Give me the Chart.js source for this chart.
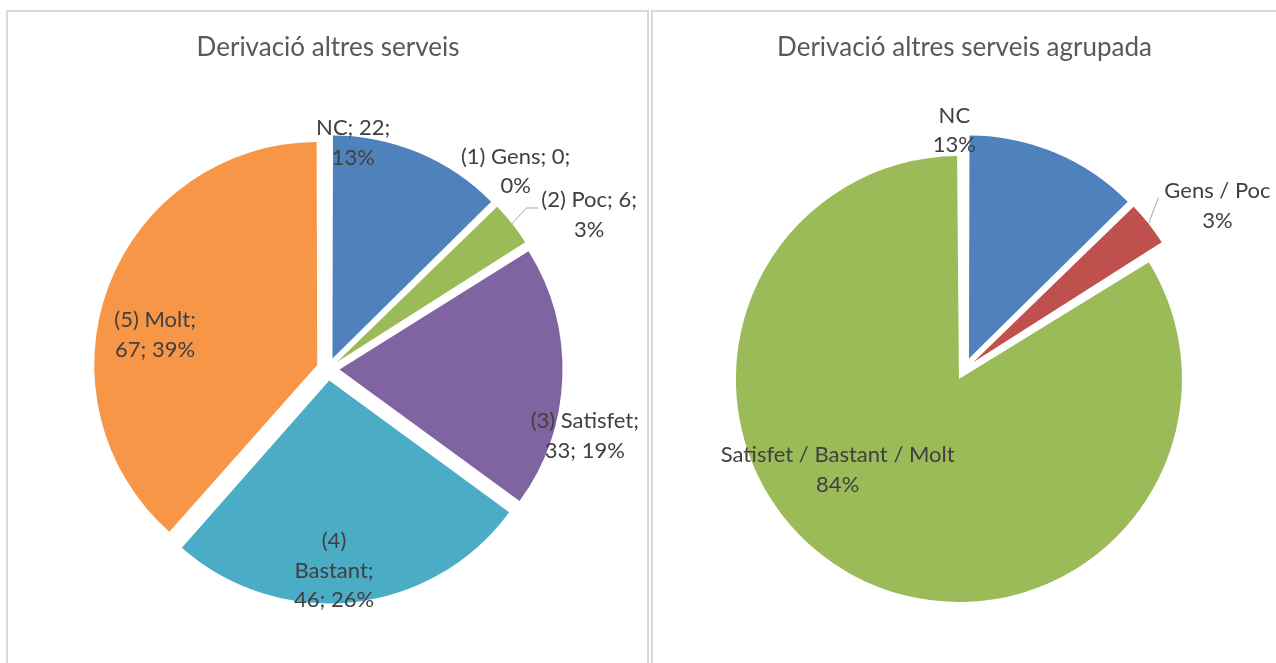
<!DOCTYPE html>
<html>
<head>
<meta charset="utf-8">
<script src="https://cdn.jsdelivr.net/npm/chart.js@4.4.0/dist/chart.umd.min.js"></script>
<style>
	html, body { margin: 0; padding: 0; background: #fff; overflow: hidden; }
	body { width: 1276px; height: 663px; position: relative; }
	.panel { position: absolute; top: 10px; height: 700px; border: 2px solid #d9d9d9; box-sizing: border-box; }
	#panel-left { left: 6px; width: 643px; }
	#panel-right { left: 651px; width: 700px; }
	canvas { position: absolute; top: 11px; }
	#chart-left { left: 8px; }
	#chart-right { left: 653px; }
</style>
</head>
<body>
<div class="panel" id="panel-left"></div>
<div class="panel" id="panel-right"></div>
<canvas id="chart-left" width="640" height="652"></canvas>
<canvas id="chart-right" width="623" height="652"></canvas>
<script>
// DATA
const leftTitle = 'Derivació altres serveis';
const leftLabels = ['NC', '(1) Gens', '(2) Poc', '(3) Satisfet', '(4) Bastant', '(5) Molt'];
const leftValues = [22, 0, 6, 33, 46, 67];
const leftColors = ['#4F81BD', '#C0504D', '#9BBB59', '#8064A2', '#4BACC6', '#F79646'];

const rightTitle = 'Derivació altres serveis agrupada';
const rightLabels = ['NC', 'Gens / Poc', 'Satisfet / Bastant / Molt'];
const rightValues = [22, 6, 146];
const rightColors = ['#4F81BD', '#C0504D', '#9BBB59'];

// label placement: da = degrees from slice middle, k = share of radius, w = wrap width
const leftPlace = [
	{ da: -16.4, k: 1.02, w: 90 },
	{ da: -2, k: 1.222, w: 135 },
	{ da: 7.7, k: 1.36, w: 112, leader: true, tail: true },
	{ da: 12.5, k: 1.19, w: 135 },
	{ da: 4.5, k: 0.904, w: 95 },
	{ da: -9.6, k: 0.79, w: 100 }
];
const rightPlace = [
	{ da: -25.2, k: 1.07 },
	{ da: 5.5, k: 1.349, leader: true, tail: false },
	{ da: 22.5, k: 0.727 }
];

Chart.defaults.font.family = 'Lato';

function wrapWords(ctx, words, maxW) {
	const lines = [];
	let cur = '';
	words.forEach(w => {
		const test = cur ? cur + ' ' + w : w;
		if (cur && ctx.measureText(test).width > maxW) {
			lines.push(cur);
			cur = w;
		} else {
			cur = test;
		}
	});
	if (cur) lines.push(cur);
	return lines;
}

// keep exploded slices at the same radius (chart.js grows them a bit)
const sameRadius = {
	id: 'sameRadius',
	afterDatasetUpdate(chart, args) {
		args.meta.data.forEach(arc => {
			const off = (arc.options.offset || 0) / 4;
			const fix = 1 - Math.sin(Math.min(Math.PI, arc.circumference));
			arc.outerRadius -= off * fix;
		});
	}
};

// data labels
const pieLabels = {
	id: 'pieLabels',
	afterDatasetsDraw(chart, args, opts) {
		const ctx = chart.ctx;
		const meta = chart.getDatasetMeta(0);
		const values = chart.data.datasets[0].data;
		const names = chart.data.labels;
		const total = values.reduce((a, b) => a + b, 0);
		const R = meta.controller.outerRadius;
		ctx.save();
		ctx.font = opts.size + 'px Lato';
		ctx.textAlign = 'center';
		ctx.textBaseline = 'middle';
		meta.data.forEach(function (arc, i) {
			const p = opts.place[i];
			const pct = Math.round(values[i] / total * 100) + '%';
			let lines;
			if (opts.withValue) {
				lines = wrapWords(ctx, (names[i] + '; ' + values[i] + '; ' + pct).split(' '), p.w);
			} else {
				lines = [names[i], pct];
			}
			const mid = (arc.startAngle + arc.endAngle) / 2;
			const a = mid + p.da * Math.PI / 180;
			const x = arc.x + Math.cos(a) * R * p.k;
			const y0 = arc.y + Math.sin(a) * R * p.k - (lines.length - 1) * opts.lineHeight / 2;

			if (p.leader) {
				const widest = Math.max(...lines.map(l => ctx.measureText(l).width));
				const off = (arc.options.offset || 0) / 4;
				const left = x - widest / 2;
				ctx.strokeStyle = '#a6a6a6';
				ctx.lineWidth = 1;
				ctx.beginPath();
				ctx.moveTo(arc.x + Math.cos(mid) * (R + off), arc.y + Math.sin(mid) * (R + off));
				if (p.tail) {
					ctx.lineTo(left - 15, y0 + 8);
					ctx.lineTo(left - 3, y0 + 8);
				} else {
					ctx.lineTo(left - 6, y0 + 6);
				}
				ctx.stroke();
			}

			ctx.fillStyle = '#404040';
			lines.forEach((l, j) => ctx.fillText(l, x, y0 + j * opts.lineHeight));
		});
		ctx.restore();
	}
};

function makePie(id, title, labels, values, colors, place, withValue, sidePad) {
	return new Chart(document.getElementById(id), {
		type: 'pie',
		data: {
			labels: labels,
			datasets: [{
				data: values,
				backgroundColor: colors,
				borderWidth: 0,
				hoverBorderWidth: 0,
				offset: 46,
				hoverOffset: 0
			}]
		},
		options: {
			responsive: false,
			animation: false,
			events: [],
			layout: { padding: { left: sidePad, right: sidePad, top: 0, bottom: 48 } },
			plugins: {
				legend: { display: false },
				tooltip: { enabled: false },
				title: {
					display: true,
					text: title,
					color: '#595959',
					font: { family: 'Lato', size: 26, weight: 'normal' },
					padding: { top: 21.5, bottom: 59.3 }
				},
				pieLabels: { place: place, withValue: withValue, size: 22, lineHeight: 29.5 }
			}
		},
		plugins: [sameRadius, pieLabels]
	});
}

makePie('chart-left', leftTitle, leftLabels, leftValues, leftColors, leftPlace, true, 74);
makePie('chart-right', rightTitle, rightLabels, rightValues, rightColors, rightPlace, false, 65.5);
</script>
</body>
</html>
